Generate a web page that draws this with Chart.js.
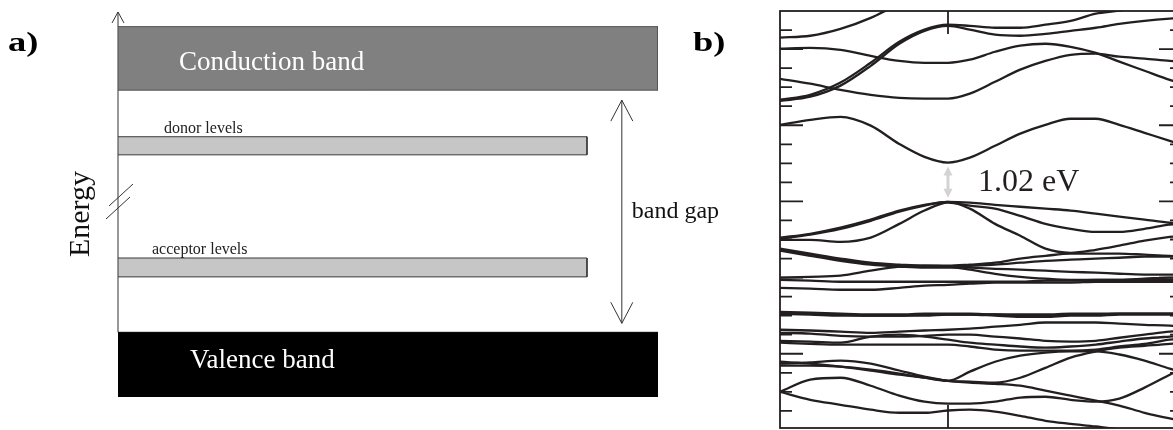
<!DOCTYPE html>
<html><head><meta charset="utf-8">
<script src="https://cdn.jsdelivr.net/npm/chart.js@4.4.0/dist/chart.umd.min.js"></script>
<style>
html,body{margin:0;padding:0;background:#fff;overflow:hidden;width:1173px;height:430px;}
#ca{position:absolute;left:0;top:0;}
#cb{position:absolute;left:778px;top:9px;}
</style></head><body>
<canvas id="ca" width="760" height="430"></canvas>
<canvas id="cb" width="406" height="421"></canvas>
<script>
// ---------- panel a: schematic levels (arbitrary energy units 0-100) ----------
const levelNames  = ['Conduction band', 'donor levels', 'acceptor levels', 'Valence band'];
const levelBottom = [79.7, 62.9, 31.2, 0];
const levelTop    = [96.2, 67.6, 36.1, 16.8];
const levelExtent = [100, 86.85, 86.85, 100];
const energyAxisTitle = 'Energy';
const gapLabel = 'band gap';
const gapArrowX = 93.3;
const panelLabels = ['a)', 'b)'];

// ---------- panel b: band structure ----------
const kPath = [0, 0.18, 0.36, 0.54, 0.71, 0.86, 1.0, 1.13, 1.28, 1.43, 1.58, 1.73, 1.88, 2.02, 2.17, 2.32, 2.39];
const kTicks = [1.0];
const energyTicksMajor = [4, 2, 0, -2, -4];
const energyTicksMinor = [4.5, 3.5, 3, 2.5, 1.5, 1, 0.5, -0.5, -1, -1.5, -2.5, -3, -3.5, -4.5, -5, -5.5];
const gapText = '1.02 eV';

const cb1 = [4.30, 4.35, 4.53, 4.82, 5.19, null, null, null, null, null, null, null, null, null, null, null, null];
const cb2 = [2.67, 2.80, 3.12, 3.64, 4.19, 4.51, 4.64, 4.61, 4.56, 4.56, 4.64, 4.74, 4.93, 5.01, 5.14, 5.24, 5.29];
const cb3 = [2.64, 2.75, 3.04, 3.56, 4.14, 4.48, 4.61, 4.51, 4.38, 4.35, 4.40, 4.48, 4.56, 4.66, 4.74, 4.80, 4.82];
const cb4 = [4.01, 4.03, 3.98, 3.82, 3.69, 3.64, 3.64, 3.72, 3.93, 4.09, 4.14, 4.06, 3.90, 3.67, 3.43, 3.19, 3.09];
const cb5 = [3.22, 3.09, 2.93, 2.80, 2.72, 2.70, 2.70, 2.83, 3.14, 3.46, 3.69, 3.85, 3.88, 3.80, 3.75, 3.69, 3.67];
const cb6 = [2.01, 2.14, 2.22, 1.99, 1.51, 1.17, 1.02, 1.15, 1.46, 1.78, 2.01, 2.17, 2.17, 2.01, 1.80, 1.59, 1.49];

const vb1  = [-0.95, -0.85, -0.69, -0.48, -0.24, -0.09, -0.01, -0.03, -0.09, -0.14, -0.19, -0.24, -0.32, -0.40, -0.48, -0.56, -0.59];
const vb2  = [-1.01, -1.01, -1.06, -0.95, -0.59, -0.24, -0.03, -0.11, -0.19, -0.38, -0.59, -0.72, -0.80, -0.80, -0.72, -0.61, -0.59];
const vb3  = [-0.98, -0.87, -0.72, -0.51, -0.27, -0.11, -0.01, -0.19, -0.59, -0.90, -1.24, -1.35, -1.27, -1.16, -1.03, -0.93, -0.90];
const vb4  = [-1.24, -1.37, -1.50, -1.61, -1.66, -1.69, -1.69, -1.66, -1.61, -1.50, -1.43, -1.37, -1.37, -1.37, -1.40, -1.43, -1.45];
const vb5  = [-1.27, -1.40, -1.53, -1.63, -1.69, -1.71, -1.71, -1.69, -1.66, -1.61, -1.56, -1.53, -1.50, -1.48, -1.45, -1.45, -1.45];
const vb6  = [-1.29, -1.43, -1.56, -1.66, -1.71, -1.74, -1.74, -1.74, -1.77, -1.79, -1.82, -1.85, -1.87, -1.90, -1.92, -1.92, -1.92];
const vb7  = [-2.00, -1.98, -1.95, -1.82, -1.71, -1.69, -1.71, -1.79, -1.90, -1.98, -2.03, -2.06, -2.06, -2.06, -2.03, -2.00, -2.00];
const vb8  = [-2.06, -2.08, -2.11, -2.11, -2.11, -2.11, -2.11, -2.11, -2.11, -2.11, -2.08, -2.08, -2.06, -2.06, -2.06, -2.06, -2.06];
const vb9  = [-2.27, -2.29, -2.32, -2.32, -2.27, -2.21, -2.19, -2.16, -2.13, -2.13, -2.13, -2.13, -2.11, -2.11, -2.11, -2.11, -2.11];
const vb10 = [-2.90, -2.92, -2.95, -2.97, -2.97, -2.95, -2.95, -2.95, -2.97, -2.97, -2.97, -2.95, -2.95, -2.95, -2.95, -2.95, -2.95];
const vb11 = [-2.93, -2.95, -2.97, -3.00, -3.00, -2.97, -2.97, -2.97, -2.97, -3.00, -3.00, -2.97, -2.97, -2.95, -2.95, -2.95, -2.93];
const vb12 = [-2.95, -2.97, -3.00, -3.00, -3.00, -3.00, -2.97, -2.97, -3.00, -3.03, -3.03, -3.00, -3.00, -2.97, -2.97, -2.97, -2.97];
const vb13 = [-3.37, -3.39, -3.42, -3.45, -3.42, -3.39, -3.37, -3.34, -3.29, -3.24, -3.18, -3.18, -3.18, -3.21, -3.24, -3.26, -3.29];
const vb14 = [-3.45, -3.47, -3.53, -3.55, -3.55, -3.53, -3.50, -3.50, -3.55, -3.60, -3.66, -3.68, -3.66, -3.58, -3.50, -3.42, -3.39];
const vb15 = [-3.66, -3.68, -3.71, -3.55, -3.50, -3.55, -3.63, -3.71, -3.76, -3.81, -3.84, -3.81, -3.76, -3.68, -3.60, -3.55, -3.53];
const vb16 = [-3.71, -3.74, -3.76, -3.76, -3.76, -3.76, -3.76, -3.81, -3.89, -3.92, -3.92, -3.92, -3.89, -3.81, -3.74, -3.63, -3.60];
const vb17 = [-4.21, -4.26, -4.34, -4.44, -4.55, -4.63, -4.71, -4.47, -4.21, -4.05, -3.97, -3.94, -3.94, -4.02, -4.18, -4.39, -4.47];
const vb18 = [-4.26, -4.23, -4.18, -4.26, -4.44, -4.60, -4.71, -4.73, -4.76, -4.63, -4.37, -4.10, -3.94, -3.84, -3.79, -3.74, -3.71];
const vb19 = [-4.31, -4.31, -4.34, -4.42, -4.52, -4.63, -4.71, -4.76, -4.79, -4.84, -4.97, -5.10, -5.23, -5.36, -5.55, -5.70, -5.76];
const vb20 = [-5.00, -4.68, -4.63, -4.84, -5.10, -5.26, -5.31, -5.31, -5.26, -5.15, -5.13, -5.21, -5.26, -5.18, -4.89, -4.55, -4.39];
const vb21 = [-5.00, -5.21, -5.34, -5.47, -5.55, -5.55, -5.49, -5.47, -5.52, -5.63, -5.76, -5.84, -5.91, -5.99, -6.07, -6.15, -6.20];

const conductionBands = [cb1, cb2, cb3, cb4, cb5, cb6];
const valenceBands = [vb1, vb2, vb3, vb4, vb5, vb6, vb7, vb8, vb9, vb10, vb11, vb12, vb13, vb14, vb15, vb16, vb17, vb18, vb19, vb20, vb21];

const SERIF = '"Liberation Serif", "DejaVu Serif", serif';

// ---------- panel a chart ----------
const levelFill   = ['#808080', '#c6c6c6', '#c6c6c6', '#000000'];
const levelStroke = ['#505050', '#3a3a3a', '#3a3a3a', '#000000'];
const levelText   = ['#ffffff', '#222222', '#222222', '#ffffff'];

const schematic = {
  id: 'schematic',
  beforeDatasetsDraw(chart) {
    const {ctx, chartArea: a, scales: {x, y}} = chart;
    const ax = x.getPixelForValue(0);
    ctx.save();
    ctx.strokeStyle = '#333';
    ctx.lineWidth = 1;
    ctx.beginPath();
    ctx.moveTo(ax, a.top);
    ctx.lineTo(ax, y.getPixelForValue(levelTop[3]));
    ctx.moveTo(ax - 6, a.top + 11);
    ctx.lineTo(ax, a.top);
    ctx.lineTo(ax + 6, a.top + 11);
    ctx.moveTo(ax - 9, 206); ctx.lineTo(ax + 15, 184);
    ctx.moveTo(ax - 12, 219); ctx.lineTo(ax + 12, 197);
    ctx.stroke();
    ctx.restore();
  },
  afterDatasetsDraw(chart) {
    const {ctx, scales: {x, y}} = chart;
    ctx.save();
    const dx = [61, 46, 34, 72];
    levelNames.forEach((name, i) => {
      const left = x.getPixelForValue(0);
      ctx.fillStyle = levelText[i];
      let base;
      if (i === 0 || i === 3) {
        ctx.font = '27px ' + SERIF;
        base = y.getPixelForValue(levelTop[i]) + (i === 0 ? 43 : 36);
      } else {
        ctx.font = '16px ' + SERIF;
        base = y.getPixelForValue(levelTop[i]) - 4;
      }
      ctx.textBaseline = 'alphabetic';
      ctx.fillText(name, left + dx[i], base);
    });
    const gx = x.getPixelForValue(gapArrowX);
    const y1 = y.getPixelForValue(levelBottom[0]) + 10;
    const y2 = y.getPixelForValue(levelTop[3]) - 9;
    ctx.strokeStyle = '#333';
    ctx.lineWidth = 1;
    ctx.beginPath();
    ctx.moveTo(gx, y1); ctx.lineTo(gx, y2);
    ctx.moveTo(gx - 11, y1 + 21); ctx.lineTo(gx, y1); ctx.lineTo(gx + 11, y1 + 21);
    ctx.moveTo(gx - 11, y2 - 21); ctx.lineTo(gx, y2); ctx.lineTo(gx + 11, y2 - 21);
    ctx.stroke();
    ctx.fillStyle = '#111';
    ctx.font = '24px ' + SERIF;
    ctx.fillText(gapLabel, gx + 10, (y1 + y2) / 2 + 6);
    ctx.save();
    ctx.translate(x.getPixelForValue(0) - 29, 214);
    ctx.rotate(-Math.PI / 2);
    ctx.textAlign = 'center';
    ctx.font = '30px ' + SERIF;
    ctx.fillText(energyAxisTitle, 0, 0);
    ctx.restore();
    ctx.font = 'bold 27px ' + SERIF;
    ctx.fillStyle = '#000';
    [[8, 51], [693, 51]].forEach((p, i) => {
      ctx.save();
      ctx.translate(p[0], p[1]);
      ctx.scale(1.35, 1);
      ctx.fillText(panelLabels[i], 0, 0);
      ctx.restore();
    });
    ctx.restore();
  }
};

new Chart(document.getElementById('ca'), {
  type: 'line',
  data: {
    datasets: levelNames.map((name, i) => ({
      label: name,
      data: [
        {x: 0, y: levelTop[i]}, {x: levelExtent[i], y: levelTop[i]},
        {x: levelExtent[i], y: levelBottom[i]}, {x: 0, y: levelBottom[i]},
        {x: 0, y: levelTop[i]}
      ],
      fill: 'shape',
      backgroundColor: levelFill[i],
      borderColor: levelStroke[i],
      borderWidth: 1,
      pointRadius: 0,
      tension: 0
    }))
  },
  options: {
    responsive: false,
    animation: false,
    events: [],
    layout: {padding: {left: 118, right: 102, top: 12, bottom: 33}},
    scales: {
      x: {type: 'linear', min: 0, max: 100, display: false},
      y: {type: 'linear', min: 0, max: 100, display: false}
    },
    plugins: {legend: {display: false}, tooltip: {enabled: false}}
  },
  plugins: [schematic]
});

// ---------- panel b chart ----------
const bandFrame = {
  id: 'bandFrame',
  afterDatasetsDraw(chart) {
    const {ctx, chartArea: a, scales: {x, y}} = chart;
    ctx.save();
    ctx.strokeStyle = '#231f20';
    ctx.lineWidth = 1.8;
    ctx.strokeRect(a.left, a.top, a.right - a.left, a.bottom - a.top);
    ctx.beginPath();
    const major = 23, minor = 12;
    const hTick = (v, len) => {
      const p = y.getPixelForValue(v);
      ctx.moveTo(a.left, p); ctx.lineTo(a.left + len, p);
      ctx.moveTo(a.right, p); ctx.lineTo(a.right - len, p);
    };
    energyTicksMajor.forEach(v => hTick(v, major));
    energyTicksMinor.forEach(v => hTick(v, minor));
    kTicks.forEach(k => {
      const p = x.getPixelForValue(k);
      ctx.moveTo(p, a.top); ctx.lineTo(p, a.top + major);
      ctx.moveTo(p, a.bottom); ctx.lineTo(p, a.bottom - major);
    });
    ctx.stroke();
    const gi = kPath.indexOf(kTicks[0]);
    const vbm = Math.max(...valenceBands.map(b => b[gi]));
    const cbm = Math.min(...conductionBands.map(b => (b[gi] === null ? Infinity : b[gi])));
    const gx = x.getPixelForValue(kPath[gi]);
    const yTop = y.getPixelForValue(cbm) + 4;
    const yBot = y.getPixelForValue(vbm) - 4;
    ctx.strokeStyle = '#d3d3d3';
    ctx.fillStyle = '#d3d3d3';
    ctx.lineWidth = 3;
    ctx.beginPath();
    ctx.moveTo(gx, yTop + 6); ctx.lineTo(gx, yBot - 6);
    ctx.stroke();
    ctx.beginPath();
    ctx.moveTo(gx, yTop); ctx.lineTo(gx - 4.5, yTop + 9); ctx.lineTo(gx + 4.5, yTop + 9); ctx.closePath();
    ctx.moveTo(gx, yBot); ctx.lineTo(gx - 4.5, yBot - 9); ctx.lineTo(gx + 4.5, yBot - 9); ctx.closePath();
    ctx.fill();
    ctx.fillStyle = '#231f20';
    ctx.font = '32px ' + SERIF;
    ctx.textBaseline = 'alphabetic';
    ctx.fillText(gapText, gx + 30, (yTop + yBot) / 2 + 9);
    ctx.restore();
  }
};

const allBands = conductionBands.concat(valenceBands);
new Chart(document.getElementById('cb'), {
  type: 'line',
  data: {
    datasets: allBands.map((b, i) => ({
      label: 'band ' + (i + 1),
      data: kPath.map((k, j) => ({x: k, y: b[j]})),
      borderColor: '#231f20',
      borderWidth: 2.3,
      pointRadius: 0,
      fill: false,
      cubicInterpolationMode: 'monotone',
      spanGaps: false
    }))
  },
  options: {
    responsive: false,
    animation: false,
    events: [],
    layout: {padding: 2},
    scales: {
      x: {type: 'linear', min: 0, max: 2.393, display: false},
      y: {type: 'linear', min: -5.95, max: 5, display: false}
    },
    plugins: {legend: {display: false}, tooltip: {enabled: false}}
  },
  plugins: [bandFrame]
});
</script>
</body></html>
